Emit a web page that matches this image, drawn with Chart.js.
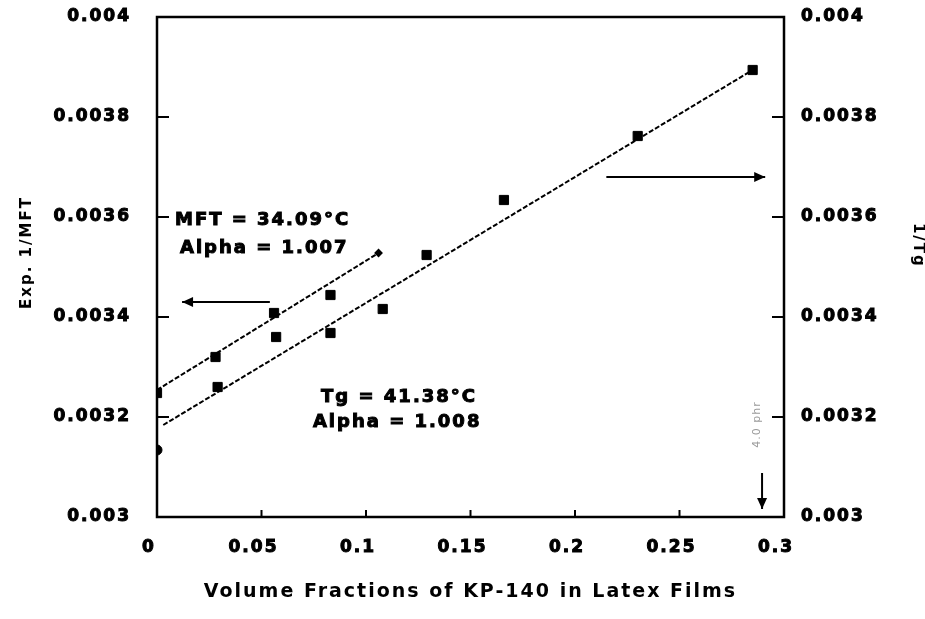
<!DOCTYPE html>
<html>
<head>
<meta charset="utf-8">
<script src="https://cdn.jsdelivr.net/npm/chart.js@4.4.1/dist/chart.umd.min.js"></script>
<style>
  html, body { margin: 0; padding: 0; background: #fff; }
</style>
</head>
<body>
<canvas id="chart" width="925" height="619"></canvas>
<script>
// measured points, 1/MFT (left axis)
const mftX = [0, 0.028, 0.056, 0.083];
const mftY = [0.003248, 0.00332, 0.003408, 0.003444];
// measured points, 1/Tg (right axis)
const tgX = [0, 0.029, 0.057, 0.083, 0.108, 0.129, 0.166, 0.23, 0.285];
const tgY = [0.003134, 0.00326, 0.00336, 0.003368, 0.003416, 0.003524, 0.003634, 0.003762, 0.003894];
// fitted lines (end points)
const mftFitX = [0, 0.106];
const mftFitY = [0.003254, 0.003528];
const tgFitX = [0.003, 0.285];
const tgFitY = [0.003184, 0.003894];

const xTicks = [0, 0.05, 0.1, 0.15, 0.2, 0.25, 0.3];
const yTicks = [0.003, 0.0032, 0.0034, 0.0036, 0.0038, 0.004];

const FONT = "DejaVu Sans";
const pts = (xs, ys) => xs.map((x, i) => ({ x: x, y: ys[i] }));

function arrow(ctx, x1, y1, x2, y2) {
  const a = Math.atan2(y2 - y1, x2 - x1);
  ctx.beginPath();
  ctx.moveTo(x1, y1);
  ctx.lineTo(x2, y2);
  ctx.stroke();
  ctx.beginPath();
  ctx.moveTo(x2, y2);
  ctx.lineTo(x2 - 11 * Math.cos(a) + 5 * Math.sin(a), y2 - 11 * Math.sin(a) - 5 * Math.cos(a));
  ctx.lineTo(x2 - 11 * Math.cos(a) - 5 * Math.sin(a), y2 - 11 * Math.sin(a) + 5 * Math.cos(a));
  ctx.closePath();
  ctx.fill();
}

function label(ctx, text, x, y) {
  ctx.fillText(text, x, y);
  ctx.strokeText(text, x, y);
}

const frame = {
  id: "frame",
  beforeDraw(chart) {
    chart.ctx.letterSpacing = "2px";
  },
  afterDatasetsDraw(chart) {
    const { ctx, chartArea: a, scales } = chart;
    const px = v => scales.x.getPixelForValue(v);
    const py = v => scales.y.getPixelForValue(v);
    ctx.save();
    ctx.strokeStyle = "#000";
    ctx.fillStyle = "#000";
    ctx.lineWidth = 2.5;
    ctx.strokeRect(a.left, a.top, a.right - a.left, a.bottom - a.top);

    // inward tick marks
    ctx.lineWidth = 2;
    ctx.beginPath();
    yTicks.slice(1, -1).forEach(v => {
      const y = scales.y.getPixelForValue(v);
      ctx.moveTo(a.left, y); ctx.lineTo(a.left + 12, y);
      const y2 = scales.y2.getPixelForValue(v);
      ctx.moveTo(a.right, y2); ctx.lineTo(a.right - 12, y2);
    });
    xTicks.slice(1, -1).forEach(v => {
      const x = px(v);
      ctx.moveTo(x, a.bottom); ctx.lineTo(x, a.bottom - 7);
    });
    ctx.stroke();

    // annotations
    ctx.font = "bold 18px '" + FONT + "'";
    ctx.textBaseline = "middle";
    ctx.textAlign = "left";
    ctx.lineWidth = 1;
    label(ctx, "MFT = 34.09°C", px(0.0086), py(0.003594));
    label(ctx, "Alpha = 1.007", px(0.011), py(0.003538));
    label(ctx, "Tg = 41.38°C", px(0.0785), py(0.00324));
    label(ctx, "Alpha = 1.008", px(0.0746), py(0.00319));

    ctx.lineWidth = 2;
    arrow(ctx, px(0.054), py(0.00343), px(0.012), py(0.00343));
    arrow(ctx, px(0.215), py(0.00368), px(0.291), py(0.00368));
    arrow(ctx, px(0.2895), py(0.003088), px(0.2895), py(0.003016));

    ctx.save();
    ctx.translate(px(0.287), py(0.003185));
    ctx.rotate(-Math.PI / 2);
    ctx.letterSpacing = "1px";
    ctx.font = "11px '" + FONT + "'";
    ctx.fillStyle = "#9a9a9a";
    ctx.textAlign = "center";
    ctx.fillText("4.0 phr", 0, 0);
    ctx.restore();

    ctx.restore();
  }
};

const tickFont = { family: FONT, weight: "bold", size: 17 };
const noPad = s => { s.paddingTop = 0; s.paddingBottom = 0; s.paddingLeft = 0; s.paddingRight = 0; };

new Chart(document.getElementById("chart"), {
  type: "scatter",
  data: {
    datasets: [
      {
        label: "MFT fit",
        type: "line",
        data: pts(mftFitX, mftFitY),
        yAxisID: "y",
        borderColor: "#000",
        borderWidth: 2,
        borderDash: [5, 2],
        pointRadius: [0, 3],
        pointStyle: "rectRot",
        pointBackgroundColor: "#000",
        fill: false
      },
      {
        label: "Tg fit",
        type: "line",
        data: pts(tgFitX, tgFitY),
        yAxisID: "y2",
        borderColor: "#000",
        borderWidth: 2,
        borderDash: [5, 2],
        pointRadius: 0,
        fill: false
      },
      {
        label: "1/MFT",
        data: pts(mftX, mftY),
        yAxisID: "y",
        pointStyle: "rect",
        pointRadius: 6.5,
        backgroundColor: "#000",
        borderColor: "#000"
      },
      {
        label: "1/Tg",
        data: pts(tgX, tgY),
        yAxisID: "y2",
        pointStyle: ctx => (ctx.dataIndex === 0 ? "circle" : "rect"),
        pointRadius: ctx => (ctx.dataIndex === 0 ? 5 : 6.5),
        backgroundColor: "#000",
        borderColor: "#000"
      }
    ]
  },
  options: {
    responsive: false,
    animation: false,
    layout: { padding: { top: 17, left: 0, right: 0, bottom: 0 } },
    plugins: { legend: { display: false }, tooltip: { enabled: false } },
    scales: {
      x: {
        type: "linear",
        min: 0,
        max: 0.3,
        afterFit: s => { s.height = 102; noPad(s); },
        afterBuildTicks: s => { s.ticks = xTicks.map(v => ({ value: v })); },
        grid: { display: false, drawTicks: false },
        border: { display: false },
        ticks: {
          padding: 20,
          color: "#000",
          font: tickFont,
          textStrokeColor: "#000",
          textStrokeWidth: 1,
          autoSkip: false,
          maxRotation: 0,
          labelOffset: -8,
          callback: v => String(v)
        },
        title: {
          display: true,
          text: "Volume Fractions of KP-140 in Latex Films",
          color: "#000",
          font: { family: FONT, weight: "bold", size: 19 },
          padding: { top: 0, bottom: 16 }
        }
      },
      y: {
        position: "left",
        min: 0.003,
        max: 0.004,
        afterFit: s => { s.width = 157; noPad(s); },
        afterBuildTicks: s => { s.ticks = yTicks.map(v => ({ value: v })); },
        grid: { display: false, drawTicks: false },
        border: { display: false },
        ticks: {
          padding: 26,
          color: "#000",
          font: tickFont,
          textStrokeColor: "#000",
          textStrokeWidth: 1,
          callback: v => String(v)
        },
        title: {
          display: true,
          text: "    Exp. 1/MFT",
          color: "#000",
          font: { family: FONT, weight: "bold", size: 15 },
          padding: { top: 18, bottom: 0 }
        }
      },
      y2: {
        position: "right",
        min: 0.003,
        max: 0.004,
        afterFit: s => { s.width = 141; noPad(s); },
        afterBuildTicks: s => { s.ticks = yTicks.map(v => ({ value: v })); },
        grid: { display: false, drawTicks: false },
        border: { display: false },
        ticks: {
          padding: 17,
          color: "#000",
          font: tickFont,
          textStrokeColor: "#000",
          textStrokeWidth: 1,
          callback: v => String(v)
        },
        title: {
          display: true,
          text: "1/Tg      ",
          color: "#000",
          font: { family: FONT, weight: "bold", size: 15, lineHeight: 1 },
          padding: { top: 0, bottom: 0 }
        }
      }
    }
  },
  plugins: [frame]
});
</script>
</body>
</html>
